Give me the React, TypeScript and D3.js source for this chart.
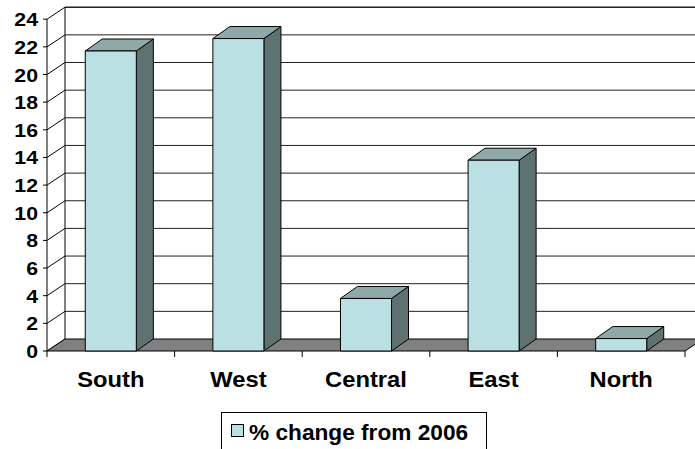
import React from "react";
import { scaleLinear, scaleBand, range } from "d3";

const categories = ["South", "West", "Central", "East", "North"];
const values = [21.7, 22.6, 3.8, 13.8, 0.9];
const yTicks = range(0, 26, 2);
const seriesName = "% change from 2006";

const width = 695;
const height = 449;
const font = "Arial, 'Liberation Sans', sans-serif";

export default function App() {
  const left = 47;
  const right = 685;
  const floorY = 351;
  const depthX = 18;
  const depthY = -12;
  const barDx = 17;
  const barDy = -12;

  const yScale = scaleLinear().domain([0, 24]).range([floorY, floorY - 331.8]);

  const xScale = scaleBand()
    .domain(categories)
    .range([left, right])
    .paddingInner(0.6)
    .paddingOuter(0.3);

  const step = xScale.step();
  const backLeft = left + depthX;
  const backRight = width + 10;

  const gridLines = yTicks.map((t) => {
    const yf = yScale(t);
    const yb = yf + depthY;
    return (
      <g key={t}>
        {t > 0 && (
          <line x1={backLeft} x2={backRight} y1={yb} y2={yb} stroke="#222" strokeWidth={t === 24 ? 1.4 : 1} />
        )}
        <line x1={left} x2={backLeft} y1={yf} y2={yb} stroke="#000" />
        <line x1={left - 4} x2={left} y1={yf} y2={yf} stroke="#000" />
        <text
          transform={`translate(38,${yf + 7}) scale(1.12,1)`}
          textAnchor="end"
          fontSize={19}
          fontWeight="bold"
          fontFamily={font}
        >
          {t}
        </text>
      </g>
    );
  });

  const floorPath = `M${left},${floorY} L${right},${floorY} L${right + depthX},${floorY + depthY} L${backLeft},${floorY + depthY} Z`;

  const bars = categories.map((c, i) => {
    const x0 = xScale(c)!;
    const x1 = x0 + xScale.bandwidth();
    const yTop = yScale(values[i]);
    const front = `M${x0},${floorY} L${x1},${floorY} L${x1},${yTop} L${x0},${yTop} Z`;
    const top = `M${x0},${yTop} L${x1},${yTop} L${x1 + barDx},${yTop + barDy} L${x0 + barDx},${yTop + barDy} Z`;
    const side = `M${x1},${floorY} L${x1 + barDx},${floorY + barDy} L${x1 + barDx},${yTop + barDy} L${x1},${yTop} Z`;
    return (
      <g key={c} stroke="#000" strokeWidth={1} strokeLinejoin="round">
        <path d={side} fill="#5f7272" />
        <path d={top} fill="#8fa9a9" />
        <path d={front} fill="#bae0e3" />
      </g>
    );
  });

  const xTicks = range(0, categories.length + 1).map((i) => left + i * step);

  const labels = categories.map((c) => (
    <text
      key={c}
      transform={`translate(${xScale(c)! + xScale.bandwidth() / 2},387) scale(1.08,1)`}
      textAnchor="middle"
      fontSize={22}
      fontWeight="bold"
      fontFamily={font}
    >
      {c}
    </text>
  ));

  return (
    <svg
      width={width}
      height={height}
      viewBox={`0 0 ${width} ${height}`}
      style={{ position: "absolute", left: 0, top: 0, background: "#fff" }}
    >
      {/* back wall and left wall */}
      <line x1={backLeft} x2={backLeft} y1={yScale(24) + depthY} y2={floorY + depthY} stroke="#000" />
      <line x1={left} x2={left} y1={yScale(24)} y2={floorY} stroke="#000" />
      {gridLines}
      <path d={floorPath} fill="#808080" stroke="#000" />
      {xTicks.map((x) => (
        <line key={x} x1={x} x2={x} y1={floorY} y2={floorY + 6} stroke="#000" />
      ))}
      {bars}
      {labels}
      <g>
        <rect x={221.5} y={412.5} width={265} height={50} fill="#fff" stroke="#000" />
        <rect x={231.5} y={424.5} width={12} height={12} fill="#bae0e3" stroke="#000" />
        <text
          transform="translate(249,439.5) scale(1.03,1)"
          fontSize={22}
          fontWeight="bold"
          fontFamily={font}
        >
          {seriesName}
        </text>
      </g>
    </svg>
  );
}
